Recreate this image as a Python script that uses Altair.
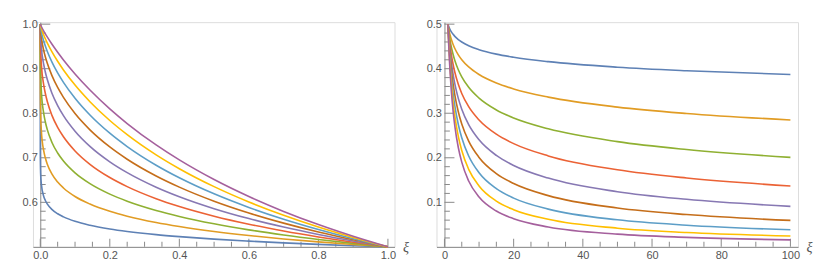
import altair as alt
import pandas as pd

SERIES = ["s1", "s2", "s3", "s4", "s5", "s6", "s7", "s8", "s9"]
COLORS = ["#5E81B5", "#E19C24", "#8FB032", "#EB6235", "#8778B3",
          "#C56E1A", "#5D9EC7", "#FFBF00", "#A5609D"]

# ---------------- left panel (xi in [0, 1]) ----------------
LEFT_X = [0, 0.0001, 0.001, 0.003, 0.01, 0.0143, 0.02, 0.0333, 0.05, 0.0667, 0.1,
          0.1429, 0.2, 0.25, 0.3333, 0.4, 0.5, 0.6, 0.7, 0.8, 0.9, 1.0]
left_s1 = [1.0, 0.7153, 0.6661, 0.6413, 0.6131, 0.6046, 0.5966, 0.5842, 0.5743, 0.5673, 0.5573,
           0.5485, 0.5402, 0.5346, 0.5274, 0.5229, 0.5173, 0.5128, 0.5089, 0.5056, 0.5026, 0.5]
left_s2 = [1.0, 0.8632, 0.7992, 0.7617, 0.7153, 0.7005, 0.6862, 0.6638, 0.6455, 0.6322, 0.6131,
           0.5961, 0.5798, 0.5689, 0.5547, 0.5457, 0.5346, 0.5255, 0.5178, 0.5112, 0.5053, 0.5]
left_s3 = [1.0, 0.9407, 0.8882, 0.8510, 0.7992, 0.7815, 0.7638, 0.7350, 0.7107, 0.6926, 0.6661,
           0.6419, 0.6184, 0.6025, 0.5817, 0.5683, 0.5518, 0.5382, 0.5267, 0.5167, 0.5079, 0.5]
left_s4 = [1.0, 0.9755, 0.9407, 0.9108, 0.8632, 0.8455, 0.8270, 0.7958, 0.7682, 0.7471, 0.7153,
           0.6853, 0.6556, 0.6352, 0.6081, 0.5906, 0.5689, 0.5509, 0.5356, 0.5223, 0.5105, 0.5]
left_s5 = [1.0, 0.9901, 0.9694, 0.9481, 0.9091, 0.8932, 0.8761, 0.8456, 0.8173, 0.7948, 0.7598,
           0.7257, 0.6910, 0.6667, 0.6340, 0.6126, 0.5858, 0.5635, 0.5445, 0.5279, 0.5132, 0.5]
left_s6 = [1.0, 0.9960, 0.9844, 0.9703, 0.9407, 0.9275, 0.9127, 0.8850, 0.8578, 0.8355, 0.7992,
           0.7627, 0.7243, 0.6967, 0.6591, 0.6341, 0.6025, 0.5760, 0.5533, 0.5334, 0.5158, 0.5]
left_s7 = [1.0, 0.9984, 0.9921, 0.9832, 0.9617, 0.9514, 0.9393, 0.9154, 0.8906, 0.8694, 0.8337,
           0.7961, 0.7552, 0.7252, 0.6833, 0.6551, 0.6190, 0.5885, 0.5621, 0.5390, 0.5184, 0.5]
left_s8 = [1.0, 0.9994, 0.9960, 0.9905, 0.9755, 0.9677, 0.9581, 0.9383, 0.9166, 0.8972, 0.8632,
           0.8259, 0.7837, 0.7520, 0.7066, 0.6755, 0.6352, 0.6008, 0.5709, 0.5445, 0.5211, 0.5]
left_s9 = [1.0, 0.9997, 0.9980, 0.9947, 0.9844, 0.9786, 0.9713, 0.9553, 0.9368, 0.9196, 0.8882,
           0.8521, 0.8098, 0.7769, 0.7288, 0.6952, 0.6511, 0.6130, 0.5796, 0.5500, 0.5237, 0.5]

# ---------------- right panel (xi in [1, 100]) ----------------
RIGHT_X = [1, 1.111, 1.25, 1.429, 1.667, 2, 2.5, 3, 4, 5, 7, 10, 15, 20, 30, 50, 70, 100]
right_s1 = [0.5, 0.4974, 0.4944, 0.4911, 0.4872, 0.4827, 0.4771, 0.4726, 0.4654, 0.4599,
            0.4515, 0.4427, 0.4327, 0.4257, 0.4158, 0.4034, 0.3954, 0.3869]
right_s2 = [0.5, 0.4947, 0.4888, 0.4822, 0.4745, 0.4654, 0.4543, 0.4453, 0.4311, 0.4202,
            0.4039, 0.3869, 0.3678, 0.3545, 0.3362, 0.3138, 0.2995, 0.2848]
right_s3 = [0.5, 0.4921, 0.4833, 0.4733, 0.4618, 0.4482, 0.4317, 0.4183, 0.3975, 0.3816,
            0.3581, 0.3339, 0.3074, 0.2893, 0.2650, 0.2362, 0.2185, 0.2008]
right_s4 = [0.5, 0.4895, 0.4777, 0.4644, 0.4491, 0.4311, 0.4094, 0.3919, 0.3648, 0.3444,
            0.3147, 0.2848, 0.2529, 0.2318, 0.2042, 0.1730, 0.1545, 0.1368]
right_s5 = [0.5, 0.4868, 0.4721, 0.4555, 0.4365, 0.4142, 0.3874, 0.3660, 0.3333, 0.3090,
            0.2743, 0.2403, 0.2052, 0.1828, 0.1544, 0.1239, 0.1068, 0.0909]
right_s6 = [0.5, 0.4842, 0.4666, 0.4467, 0.4240, 0.3975, 0.3659, 0.3409, 0.3033, 0.2758,
            0.2373, 0.2008, 0.1645, 0.1422, 0.1150, 0.0873, 0.0725, 0.0594]
right_s7 = [0.5, 0.4816, 0.4610, 0.4379, 0.4116, 0.3810, 0.3449, 0.3167, 0.2748, 0.2448,
            0.2039, 0.1663, 0.1306, 0.1094, 0.0847, 0.0607, 0.0486, 0.0383]
right_s8 = [0.5, 0.4789, 0.4555, 0.4292, 0.3992, 0.3648, 0.3245, 0.2934, 0.2481, 0.2163,
            0.1741, 0.1368, 0.1028, 0.0834, 0.0618, 0.0419, 0.0323, 0.0245]
right_s9 = [0.5, 0.4763, 0.4500, 0.4204, 0.3871, 0.3489, 0.3048, 0.2712, 0.2231, 0.1902,
            0.1479, 0.1118, 0.0804, 0.0632, 0.0447, 0.0287, 0.0214, 0.0156]

# tick positions and labels
LEFT_X_MAJOR = [0, 0.2, 0.4, 0.6, 0.8, 1.0]
LEFT_X_MINOR = [0.05, 0.1, 0.15, 0.25, 0.3, 0.35, 0.45, 0.5, 0.55, 0.65, 0.7, 0.75, 0.85, 0.9, 0.95]
LEFT_Y_MAJOR = [0.6, 0.7, 0.8, 0.9, 1.0]
LEFT_Y_MINOR = [0.52, 0.54, 0.56, 0.58, 0.62, 0.64, 0.66, 0.68, 0.72, 0.74, 0.76, 0.78,
                0.82, 0.84, 0.86, 0.88, 0.92, 0.94, 0.96, 0.98]
RIGHT_X_MAJOR = [0, 20, 40, 60, 80, 100]
RIGHT_X_MINOR = [5, 10, 15, 25, 30, 35, 45, 50, 55, 65, 70, 75, 85, 90, 95]
RIGHT_Y_MAJOR = [0.1, 0.2, 0.3, 0.4, 0.5]
RIGHT_Y_MINOR = [0.02, 0.04, 0.06, 0.08, 0.12, 0.14, 0.16, 0.18, 0.22, 0.24, 0.26, 0.28,
                 0.32, 0.34, 0.36, 0.38, 0.42, 0.44, 0.46, 0.48]

AX = "#8a8a8a"
LAB = "#555555"
W, H = 362, 225


def panel(xs, series_vals, xdom, ydom, xmaj, xmin, ymaj, ymin, xfmt, yfmt):
    rows = []
    for name, vals in zip(SERIES, series_vals):
        for x, y in zip(xs, vals):
            rows.append({"x": x, "y": y, "s": name})
    df = pd.DataFrame(rows)

    y_axis_px = W * (0 - xdom[0]) / (xdom[1] - xdom[0])

    x_enc = alt.X("x:Q", scale=alt.Scale(domain=xdom, nice=False, zero=False),
                  axis=alt.Axis(values=xmaj, format=xfmt, ticks=False, tickSize=0, grid=False,
                                domainColor=AX, domainWidth=1, labelColor=LAB,
                                labelFont="Liberation Sans", labelFontSize=11, labelPadding=3,
                                labelFlush=False, title="ξ", titleX=W + 8, titleY=1,
                                titleAlign="left", titleBaseline="middle", titleAngle=0,
                                titleFont="Liberation Serif", titleFontStyle="italic",
                                titleFontWeight="normal", titleFontSize=14, titleColor=LAB))
    y_enc = alt.Y("y:Q", scale=alt.Scale(domain=ydom, nice=False, zero=False),
                  axis=alt.Axis(values=ymaj, format=yfmt, ticks=False, tickSize=0, grid=False,
                                domainColor=AX, domainWidth=1, labelColor=LAB,
                                labelFont="Liberation Sans", labelFontSize=11, labelPadding=3,
                                labelFlush=False, offset=-y_axis_px, title=""))

    lines = alt.Chart(df).mark_line(strokeWidth=1.6, interpolate="monotone").encode(
        x=x_enc, y=y_enc,
        color=alt.Color("s:N", scale=alt.Scale(domain=SERIES, range=COLORS), legend=None),
        detail="s:N",
    )

    def xticks(vals, length):
        d = pd.DataFrame({"x": vals, "y": [ydom[0]] * len(vals)})
        return alt.Chart(d).mark_tick(orient="vertical", size=length * 2, thickness=1,
                                      yOffset=-length, color=AX, opacity=1).encode(x=x_enc, y=y_enc)

    def yticks(vals, length):
        d = pd.DataFrame({"x": [0] * len(vals), "y": vals})
        return alt.Chart(d).mark_tick(orient="horizontal", size=length * 2, thickness=1,
                                      xOffset=length, color=AX, opacity=1).encode(x=x_enc, y=y_enc)

    return alt.layer(
        xticks(xmaj, 4), xticks(xmin, 2.5), yticks(ymaj, 5), yticks(ymin, 2.7), lines
    ).properties(width=W, height=H)


left = panel(LEFT_X, [left_s1, left_s2, left_s3, left_s4, left_s5, left_s6, left_s7, left_s8, left_s9],
             [-0.021, 1.019], [0.5, 1.0045], LEFT_X_MAJOR, LEFT_X_MINOR, LEFT_Y_MAJOR, LEFT_Y_MINOR,
             ".1f", ".1f")
right = panel(RIGHT_X, [right_s1, right_s2, right_s3, right_s4, right_s5, right_s6, right_s7,
                        right_s8, right_s9],
              [-2.31, 102.2], [0, 0.5045], RIGHT_X_MAJOR, RIGHT_X_MINOR, RIGHT_Y_MAJOR,
              RIGHT_Y_MINOR, "d", ".1f")

chart = alt.hconcat(left, right, spacing=42, bounds="flush",
                    padding={"left": 13, "top": 9, "right": 5, "bottom": 5}
                    ).configure_view(strokeWidth=0).configure(background="white")

chart.save("out.html", embed_options={"renderer": "svg", "actions": False})
